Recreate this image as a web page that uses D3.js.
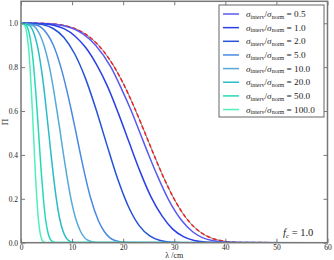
<!DOCTYPE html>
<meta charset="utf-8">
<style>
body { margin: 0; background: #fff; }
svg text { font-family: "Liberation Serif", "DejaVu Serif", serif; fill: #222; }
.tick line { stroke: #555; stroke-width: 0.8px; }
.tick text { font-size: 7.5px; fill: #222; }
</style>
<body>
<svg id="chart" width="334" height="260"></svg>
<script src="https://cdn.jsdelivr.net/npm/d3@7"></script>
<script>

// ratio sigma_interv / sigma_norm, one curve per value
var ratios = [0.5, 1.0, 2.0, 5.0, 10.0, 20.0, 50.0, 100.0];
var ratioLabels = ["0.5", "1.0", "2.0", "5.0", "10.0", "20.0", "50.0", "100.0"];

// [lambda (cm), Pi]
var pi_0_5 = [[0,1],[4.1,0.999],[8.1,0.99],[12.2,0.95],[14.6,0.9],[17.6,0.8],[19.7,0.7],[21.6,0.6],[23.3,0.5],[25.0,0.4],[26.8,0.3],[28.8,0.2],[31.5,0.1],[33.6,0.05],[37.4,0.01],[41.4,0.001],[60,0]];
var pi_1 = [[0,1],[4.2,0.998],[6.4,0.991],[8.5,0.974],[10.6,0.941],[12.7,0.888],[14.8,0.811],[17.0,0.709],[19.1,0.587],[21.2,0.455],[23.3,0.325],[25.4,0.211],[27.6,0.122],[29.7,0.062],[31.8,0.028],[33.9,0.010],[36.0,0.003],[38.2,0.001],[60,0]];
var pi_2 = [[0,1],[2.1,1.0],[4.2,0.994],[6.3,0.976],[8.4,0.935],[10.5,0.861],[12.6,0.750],[14.7,0.607],[16.8,0.447],[18.9,0.292],[21.0,0.166],[23.1,0.079],[25.2,0.031],[27.3,0.010],[29.4,0.002],[31.5,0],[60,0]];
var pi_5 = [[0,1],[3.24,0.99],[5.16,0.95],[6.34,0.9],[7.80,0.8],[8.91,0.7],[9.88,0.6],[10.78,0.5],[11.66,0.4],[12.6,0.3],[13.67,0.2],[15.16,0.1],[16.33,0.05],[18.4,0.01],[20.7,0.001],[60,0]];
var pi_10 = [[0,1],[2.30,0.99],[3.66,0.95],[4.49,0.9],[5.57,0.8],[6.36,0.7],[7.05,0.6],[7.70,0.5],[8.33,0.4],[9.01,0.3],[9.78,0.2],[10.84,0.1],[11.69,0.05],[13.2,0.01],[14.8,0.001],[60,0]];
var pi_20 = [[0,1],[1.62,0.99],[2.59,0.95],[3.18,0.9],[3.93,0.8],[4.51,0.7],[4.98,0.6],[5.44,0.5],[5.89,0.4],[6.37,0.3],[6.92,0.2],[7.66,0.1],[8.27,0.05],[9.35,0.01],[10.5,0.001],[60,0]];
var pi_50 = [[0,1],[1.03,0.99],[1.64,0.95],[2.01,0.9],[2.49,0.8],[2.85,0.7],[3.16,0.6],[3.45,0.5],[3.73,0.4],[4.04,0.3],[4.39,0.2],[4.85,0.1],[5.24,0.05],[5.91,0.01],[6.65,0.001],[60,0]];
var pi_100 = [[0,1],[0.73,0.99],[1.16,0.95],[1.42,0.9],[1.76,0.8],[2.01,0.7],[2.23,0.6],[2.44,0.5],[2.64,0.4],[2.85,0.3],[3.10,0.2],[3.43,0.1],[3.70,0.05],[4.18,0.01],[4.70,0.001],[60,0]];

// red dashed limit curve
var pi_limit = [[0,1],[4,0.9995],[6,0.9974],[8,0.9918],[10,0.9802],[12,0.9594],[14,0.9262],[16,0.8773],[18,0.8108],[20,0.7265],[22,0.6262],[24,0.5154],[26,0.4014],[28,0.293],[30,0.1983],[32,0.1231],[34,0.0693],[36,0.0349],[38,0.0155],[40,0.006],[42,0.002],[44,0.0006],[60,0]];

var xTicks = [0, 10, 20, 30, 40, 50, 60];
var yTicks = [0.0, 0.2, 0.4, 0.6, 0.8, 1.0];

var curves = [pi_0_5, pi_1, pi_2, pi_5, pi_10, pi_20, pi_50, pi_100];
var colors = ["#5a5af0", "#2a3fe6", "#2452d8", "#4a8ae0", "#55aad8", "#28bcc8", "#26d8b8", "#50f0bc"];

var svg = d3.select("#chart");
var pLeft = 21, pRight = 327.5, pTop = 1.3, pBottom = 242.7;

var x = d3.scaleLinear().domain([0, 60]).range([pLeft, pRight]);
var y = d3.scaleLinear().domain([0, 1.1]).range([pBottom, pTop]);

svg.append("clipPath").attr("id", "clip")
  .append("rect").attr("x", pLeft).attr("y", pTop).attr("width", pRight - pLeft).attr("height", pBottom - pTop);

var line = d3.line()
  .x(function(d) { return x(d[0]); })
  .y(function(d) { return y(d[1]); })
  .curve(d3.curveMonotoneX);

var plot = svg.append("g").attr("clip-path", "url(#clip)");

// limit curve first (dark line under red dashes)
plot.append("path").datum(pi_limit)
  .attr("d", line).attr("fill", "none")
  .attr("stroke", "#444").attr("stroke-width", 0.7);
plot.append("path").datum(pi_limit)
  .attr("d", line).attr("fill", "none")
  .attr("stroke", "#f02020").attr("stroke-width", 1.5)
  .attr("stroke-dasharray", "4,2.5");

plot.selectAll(".curve").data(curves).enter()
  .append("path")
  .attr("class", "curve")
  .attr("d", line)
  .attr("fill", "none")
  .attr("stroke", function(d, i) { return colors[i]; })
  .attr("stroke-width", 1.5);

// axes, ticks pointing inwards on all four sides
svg.append("g").attr("transform", "translate(0," + pBottom + ")")
  .call(d3.axisBottom(x).tickValues(xTicks).tickSize(-4).tickPadding(2).tickFormat(d3.format("d")));
svg.append("g").attr("transform", "translate(0," + pTop + ")")
  .call(d3.axisTop(x).tickValues(xTicks).tickSize(-4).tickFormat(""));
svg.append("g").attr("transform", "translate(" + pLeft + ",0)")
  .call(d3.axisLeft(y).tickValues(yTicks).tickSize(-4).tickPadding(3).tickFormat(d3.format(".1f")));
svg.append("g").attr("transform", "translate(" + pRight + ",0)")
  .call(d3.axisRight(y).tickValues(yTicks).tickSize(-4).tickFormat(""));
svg.selectAll(".domain").remove();

svg.append("rect")
  .attr("x", pLeft).attr("y", pTop)
  .attr("width", pRight - pLeft).attr("height", pBottom - pTop)
  .attr("fill", "none").attr("stroke", "#777").attr("stroke-width", 1.5);

// axis labels
svg.append("text").attr("x", (pLeft + pRight) / 2).attr("y", 258)
  .attr("text-anchor", "middle").attr("font-size", 8).text("λ /cm");
svg.append("text").attr("transform", "translate(8," + ((pTop + pBottom) / 2) + ") rotate(-90)")
  .attr("text-anchor", "middle").attr("font-size", 9).text("Π");

// f_c annotation
var fc = svg.append("text").attr("x", 283).attr("y", 236).attr("font-size", 10.5);
fc.append("tspan").attr("font-style", "italic").text("f");
fc.append("tspan").attr("font-style", "italic").attr("font-size", 7).attr("dy", 2).text("c");
fc.append("tspan").attr("dy", -2).text(" = 1.0");

// legend
var lg = svg.append("g");
lg.append("rect").attr("x", 219).attr("y", 5).attr("width", 105).attr("height", 112)
  .attr("fill", "#fff").attr("stroke", "#666").attr("stroke-width", 1);

ratios.forEach(function(r, i) {
  var ry = 14 + i * 13.65;
  lg.append("line").attr("x1", 223).attr("x2", 239).attr("y1", ry).attr("y2", ry)
    .attr("stroke", colors[i]).attr("stroke-width", 1.5);
  var t = lg.append("text").attr("x", 246).attr("y", ry + 3).attr("font-size", 9.2);
  t.append("tspan").attr("font-style", "italic").text("σ");
  t.append("tspan").attr("font-size", 6).attr("dy", 1.8).text("interv");
  t.append("tspan").attr("dy", -1.8).text("/");
  t.append("tspan").attr("font-style", "italic").text("σ");
  t.append("tspan").attr("font-size", 6).attr("dy", 1.8).text("norm");
  t.append("tspan").attr("dy", -1.8).text(" = " + ratioLabels[i]);
});

</script>
</body>
